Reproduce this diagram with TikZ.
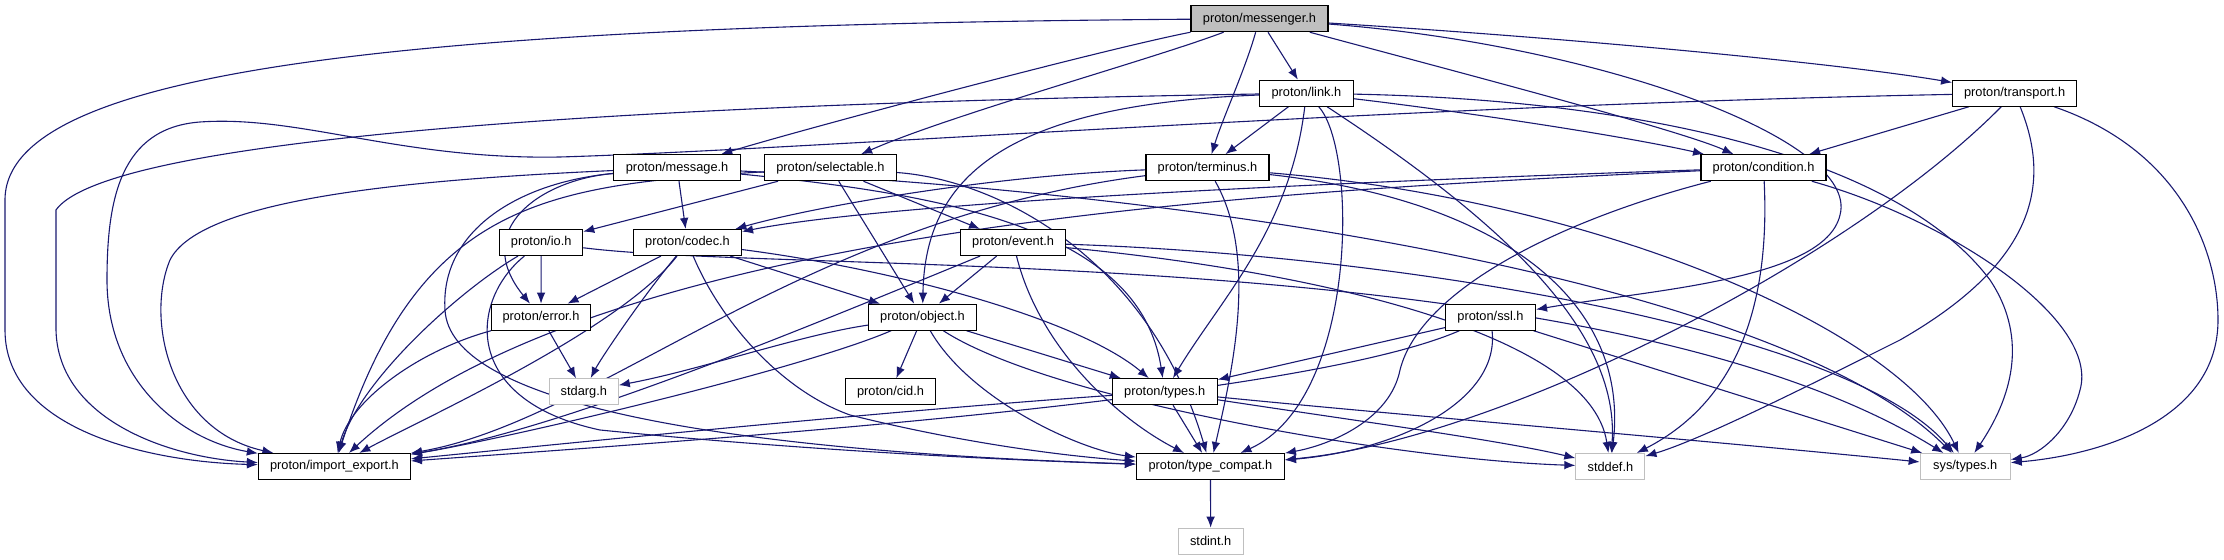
\documentclass[tikz,border=0pt]{standalone}
\usepackage{fontspec}
\newfontfamily\dfont{Liberation Sans}
\usetikzlibrary{arrows.meta,backgrounds}
\definecolor{edgec}{HTML}{191970}
\definecolor{lgray}{HTML}{BFBFBF}
\begin{document}
\begin{tikzpicture}[x=0.5pt,y=-0.5pt,
  box/.style={draw=black,line width=0.55pt,fill=white,minimum height=13pt,inner sep=0pt,font=\dfont\fontsize{6.4}{7}\selectfont},
  gbox/.style={box,draw=lgray},
  edge/.style={draw=edgec,line width=0.55pt,-{Latex[length=5.5pt,width=4.3pt]}}]
\useasboundingbox (0,0) rectangle (2224,560);
\node[box,fill=lgray,minimum width=68.5pt] (M) at (1259.5,18.7) {proton/messenger.h};
\node[box,minimum width=47pt] (L) at (1306.4,93.2) {proton/link.h};
\node[box,minimum width=62pt] (T) at (2014.6,93.2) {proton/transport.h};
\node[box,minimum width=63.5pt] (Ms) at (677.1,167.7) {proton/message.h};
\node[box,minimum width=66pt] (S) at (830.4,167.7) {proton/selectable.h};
\node[box,minimum width=61.5pt] (Te) at (1207.5,167.7) {proton/terminus.h};
\node[box,minimum width=62.5pt] (C) at (1763.5,167.7) {proton/condition.h};
\node[box,minimum width=41.5pt] (IO) at (541.2,242.5) {proton/io.h};
\node[box,minimum width=54pt] (Co) at (687.5,242.5) {proton/codec.h};
\node[box,minimum width=52.5pt] (E) at (1013.1,242.5) {proton/event.h};
\node[box,minimum width=49.5pt] (Er) at (541,317.2) {proton/error.h};
\node[box,minimum width=54pt] (O) at (922.5,317.2) {proton/object.h};
\node[box,minimum width=45pt] (SS) at (1490.5,317.2) {proton/ssl.h};
\node[gbox,minimum width=34.5pt] (SA) at (583.8,391.7) {stdarg.h};
\node[box,minimum width=45pt] (Ci) at (890.5,391.7) {proton/cid.h};
\node[box,minimum width=52.5pt] (Ty) at (1164.8,391.7) {proton/types.h};
\node[box,minimum width=76pt] (IE) at (334.4,466.5) {proton/import\_export.h};
\node[box,minimum width=74pt] (TC) at (1210.4,466.5) {proton/type\_compat.h};
\node[gbox,minimum width=34.5pt] (SD) at (1610.4,466.5) {stddef.h};
\node[gbox,minimum width=45pt] (ST) at (1965.2,466.5) {sys/types.h};
\node[gbox,minimum width=32.5pt] (SI) at (1210.7,541.2) {stdint.h};
\begin{pgfonlayer}{background}
% messenger
\draw[edge] (M) .. controls (400,25) and (5,70) .. (5,200) -- (5,330) .. controls (5,430) and (150,462) .. (IE);
\draw[edge] (M) .. controls (1100,50) and (800,130) .. (Ms);
\draw[edge] (M) .. controls (1150,60) and (950,115) .. (S);
\draw[edge] (M) .. controls (1245,70) and (1222,120) .. (Te);
\draw[edge] (M) -- (L);
\draw[edge] (M) .. controls (1450,70) and (1680,130) .. (C);
\draw[edge] (M) .. controls (1600,40) and (1850,65) .. (T);
\draw[edge] (M) .. controls (1600,45) and (1860,140) .. (1840,215) .. controls (1825,280) and (1650,290) .. (SS);
% link
\draw[edge] (L) .. controls (900,100) and (120,120) .. (56,210) -- (56,330) .. controls (58,420) and (170,458) .. (IE);
\draw[edge] (L) -- (Te);
\draw[edge] (L) .. controls (1450,110) and (1620,135) .. (C);
\draw[edge] (L) .. controls (1650,100) and (1900,160) .. (1990,280) .. controls (2030,340) and (2010,400) .. (ST);
\draw[edge] (L) .. controls (1000,105) and (925,180) .. (O);
\draw[edge] (L) .. controls (1290,230) and (1220,300) .. (Ty);
\draw[edge] (L) .. controls (1358,150) and (1358,400) .. (TC);
\draw[edge] (L) .. controls (1500,220) and (1620,330) .. (SD);
% transport
\draw[edge] (T) .. controls (1400,105) and (800,150) .. (560,157) .. controls (400,160) and (300,115) .. (200,122) .. controls (120,128) and (107,200) .. (107,280) .. controls (107,380) and (180,440) .. (IE);
\draw[edge] (T) -- (C);
\draw[edge] (T) .. controls (1850,260) and (1500,440) .. (TC);
\draw[edge] (T) .. controls (2050,180) and (2040,260) .. (1900,340) .. controls (1800,390) and (1700,440) .. (SD);
\draw[edge] (T) .. controls (2180,150) and (2218,250) .. (2218,320) .. controls (2218,420) and (2100,455) .. (ST);
% message
\draw[edge] (Ms) .. controls (400,180) and (200,200) .. (170,260) .. controls (145,320) and (170,430) .. (IE);
\draw[edge] (Ms) -- (Co);
\draw[edge] (Ms) .. controls (540,180) and (470,230) .. (Er);
\draw[edge] (Ms) .. controls (520,182) and (440,230) .. (445,310) .. controls (450,400) and (700,450) .. (TC);
\draw[edge] (Ms) .. controls (950,195) and (1140,230) .. (Ty);
\draw[edge] (Ms) .. controls (1300,200) and (1800,300) .. (ST);
% selectable
\draw[edge] (S) .. controls (550,185) and (420,200) .. (IE);
\draw[edge] (S) -- (IO);
\draw[edge] (S) -- (O);
\draw[edge] (S) -- (E);
\draw[edge] (S) .. controls (1000,180) and (1150,260) .. (TC);
% terminus
\draw[edge] (Te) .. controls (1000,175) and (820,205) .. (Co);
\draw[edge] (Te) .. controls (800,220) and (600,420) .. (IE);
\draw[edge] (Te) .. controls (1260,260) and (1230,380) .. (TC);
\draw[edge] (Te) .. controls (1500,200) and (1630,300) .. (SD);
\draw[edge] (Te) .. controls (1600,200) and (1900,330) .. (ST);
% condition
\draw[edge] (C) .. controls (1400,180) and (900,200) .. (Co);
\draw[edge] (C) .. controls (1300,190) and (600,220) .. (IE);
\draw[edge] (C) .. controls (1560,220) and (1420,290) .. (1400,370) .. controls (1390,420) and (1330,445) .. (TC);
\draw[edge] (C) .. controls (1770,300) and (1740,400) .. (SD);
\draw[edge] (C) .. controls (1950,220) and (2100,320) .. (2080,390) .. controls (2070,430) and (2040,455) .. (ST);
% io
\draw[edge] (IO) -- (Er);
\draw[edge] (IO) .. controls (460,290) and (360,380) .. (IE);
\draw[edge] (IO) .. controls (470,300) and (460,400) .. (600,430) .. controls (800,450) and (1000,460) .. (TC);
\draw[edge] (IO) .. controls (800,275) and (1600,240) .. (ST);
% codec
\draw[edge] (Co) -- (Er);
\draw[edge] (Co) -- (O);
\draw[edge] (Co) .. controls (900,270) and (1080,320) .. (Ty);
\draw[edge] (Co) .. controls (620,330) and (420,420) .. (IE);
\draw[edge] (Co) .. controls (640,300) and (600,360) .. (SA);
\draw[edge] (Co) .. controls (720,320) and (780,390) .. (850,415) .. controls (950,440) and (1050,455) .. (TC);
% event
\draw[edge] (E) -- (O);
\draw[edge] (E) .. controls (800,330) and (560,430) .. (IE);
\draw[edge] (E) .. controls (1040,350) and (1120,420) .. (TC);
\draw[edge] (E) .. controls (1300,270) and (1590,330) .. (SD);
\draw[edge] (E) .. controls (1400,255) and (1850,330) .. (ST);
% error
\draw[edge] (Er) .. controls (420,350) and (350,400) .. (IE);
\draw[edge] (Er) -- (SA);
% object
\draw[edge] (O) -- (Ci);
\draw[edge] (O) -- (Ty);
\draw[edge] (O) .. controls (800,370) and (500,440) .. (IE);
\draw[edge] (O) .. controls (800,335) and (700,370) .. (SA);
\draw[edge] (O) .. controls (970,400) and (1080,450) .. (TC);
\draw[edge] (O) .. controls (1050,400) and (1400,460) .. (SD);
% ssl
\draw[edge] (SS) -- (Ty);
\draw[edge] (SS) .. controls (1300,400) and (700,440) .. (IE);
\draw[edge] (SS) .. controls (1500,400) and (1400,450) .. (TC);
\draw[edge] (SS) -- (ST);
% types
\draw[edge] (Ty) .. controls (900,410) and (600,440) .. (IE);
\draw[edge] (Ty) -- (TC);
\draw[edge] (Ty) .. controls (1350,420) and (1500,440) .. (SD);
\draw[edge] (Ty) .. controls (1400,415) and (1700,440) .. (ST);
% type_compat
\draw[edge] (TC) -- (SI);
\end{pgfonlayer}
\end{tikzpicture}
\end{document}
